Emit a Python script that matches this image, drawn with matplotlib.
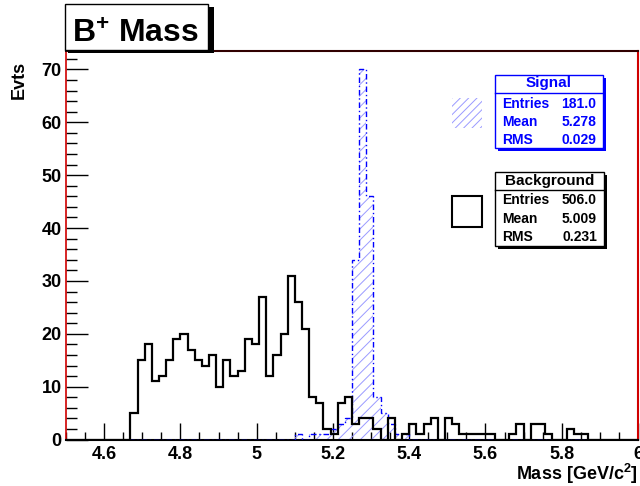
import numpy as np
import matplotlib
matplotlib.use("Agg")
import matplotlib.pyplot as plt
from matplotlib.patches import Rectangle
from matplotlib.lines import Line2D
from matplotlib.ticker import MultipleLocator

plt.rcParams["font.family"] = ["Liberation Sans", "DejaVu Sans"]
plt.rcParams["font.weight"] = "bold"
plt.rcParams["mathtext.fontset"] = "custom"
plt.rcParams["mathtext.rm"] = "Liberation Sans:bold"
plt.rcParams["mathtext.it"] = "Liberation Sans:bold"
plt.rcParams["mathtext.bf"] = "Liberation Sans:bold"
plt.rcParams["hatch.linewidth"] = 0.7

# Histogram binning
mass_lo, mass_hi, n_bins = 4.5, 6.0, 80
edges = np.linspace(mass_lo, mass_hi, n_bins + 1)

# Background counts per bin
bkg_counts = [
    0, 0, 0, 0, 0, 0, 0, 0, 0, 5,
    15, 18, 11, 12, 15, 19, 20, 17, 15, 14,
    16, 10, 15, 12, 13, 19, 18, 27, 12, 16,
    20, 31, 26, 21, 8, 7, 2, 1, 7, 8,
    3, 4, 4, 2, 0, 4, 0, 1, 3, 1,
    3, 4, 0, 4, 3, 1, 1, 1, 1, 1,
    0, 0, 1, 3, 0, 3, 3, 1, 0, 0,
    2, 1, 1, 0, 0, 0, 0, 0, 0, 0,
]

# Signal counts per bin
sig_counts = [
    0, 0, 0, 0, 0, 0, 0, 0, 0, 0,
    0, 0, 0, 0, 0, 0, 0, 0, 0, 0,
    0, 0, 0, 0, 0, 0, 0, 0, 0, 0,
    0, 0, 1, 0, 1, 1, 1, 2, 3, 4,
    34, 70, 46, 8, 5, 3, 1, 1, 0, 0,
    0, 0, 0, 0, 0, 0, 0, 0, 0, 0,
    0, 0, 0, 0, 0, 0, 0, 0, 0, 0,
    0, 0, 0, 0, 0, 0, 0, 0, 0, 0,
]

x_ticks = [4.6, 4.8, 5.0, 5.2, 5.4, 5.6, 5.8, 6.0]
x_ticklabels = ["4.6", "4.8", "5", "5.2", "5.4", "5.6", "5.8", "6"]
y_ticks = [0, 10, 20, 30, 40, 50, 60, 70]

sig_stats = [("Entries", "181.0"), ("Mean", "5.278"), ("RMS", "0.029")]
bkg_stats = [("Entries", "506.0"), ("Mean", "5.009"), ("RMS", "0.231")]

SIG_BLUE = "#0000ff"
HATCH_BLUE = "#9a9aff"
FRAME_RED = "#d00000"

W, H = 640, 486
fig = plt.figure(figsize=(W / 100, H / 100), dpi=100)
fig.patch.set_facecolor("white")


def fx(p):
    return p / W


def fy(p):
    return 1 - p / H


ax = fig.add_axes([fx(66), fy(439.5), fx(638) - fx(66), fy(51) - fy(439.5)])

sig = np.asarray(sig_counts, float)
bkg = np.asarray(bkg_counts, float)

# Signal: hatched fill with dash-dot blue outline
ax.stairs(sig, edges, fill=True, facecolor="none", edgecolor=HATCH_BLUE,
          hatch="///", linewidth=0, zorder=2)
ax.stairs(sig, edges, color=SIG_BLUE, linewidth=1.0,
          linestyle=(0, (4, 2, 1, 2)), zorder=3)
# Background: solid black outline
ax.stairs(bkg, edges, color="black", linewidth=1.6, zorder=4)

ax.set_xlim(mass_lo, mass_hi)
ax.set_ylim(0, 73.5)
ax.set_xticks(x_ticks)
ax.set_xticklabels(x_ticklabels)
ax.set_yticks(y_ticks)
ax.xaxis.set_minor_locator(MultipleLocator(0.05))
ax.yaxis.set_minor_locator(MultipleLocator(2))
ax.tick_params(axis="both", which="both", direction="in", top=False, right=False,
               labelsize=13, width=1, color="black")
ax.tick_params(axis="x", which="major", length=12, pad=5)
ax.tick_params(axis="x", which="minor", length=6)
ax.tick_params(axis="y", which="major", length=16, pad=3)
ax.tick_params(axis="y", which="minor", length=8)
for lab in ax.get_xticklabels() + ax.get_yticklabels():
    lab.set_fontweight("bold")

ax.spines["left"].set_color(FRAME_RED)
ax.spines["left"].set_linewidth(1.2)
ax.spines["right"].set_color(FRAME_RED)
ax.spines["right"].set_linewidth(1.5)
ax.spines["bottom"].set_color("black")
ax.spines["bottom"].set_linewidth(1.5)
ax.spines["top"].set_color("#300000")
ax.spines["top"].set_linewidth(1.5)

# Axis titles
fig.text(fx(19), fy(80), "Evts", rotation=90, ha="center", va="center",
         fontsize=13, fontweight="bold")
fig.text(fx(638), fy(474), r"Mass [GeV/c$^{2}$]", ha="right", va="center",
         fontsize=13, fontweight="bold")

# Title box with shadow
fig.add_artist(Rectangle((fx(68), fy(53)), fx(146), 46 / H, transform=fig.transFigure,
                         facecolor="black", edgecolor="none", zorder=10))
fig.add_artist(Rectangle((fx(65), fy(50)), fx(143), 46 / H, transform=fig.transFigure,
                         facecolor="white", edgecolor="black", linewidth=1, zorder=11))
fig.text(fx(72), fy(43), r"B$^{+}$ Mass", ha="left", va="baseline",
         fontsize=23, fontweight="bold", zorder=12)


def stat_box(left, right, top, bottom, sep, color, title, rows, title_y, row_ys):
    wpx, hpx = right - left, bottom - top
    fig.add_artist(Rectangle((fx(left + 3), fy(bottom + 3)), wpx / W, hpx / H,
                             transform=fig.transFigure, facecolor=color,
                             edgecolor="none", zorder=10))
    fig.add_artist(Rectangle((fx(left), fy(bottom)), wpx / W, hpx / H,
                             transform=fig.transFigure, facecolor="white",
                             edgecolor=color, linewidth=1, zorder=11))
    fig.add_artist(Line2D([fx(left), fx(right)], [fy(sep), fy(sep)],
                          transform=fig.transFigure, color=color, linewidth=1,
                          zorder=12))
    fig.text(fx((left + right) / 2), fy(title_y), title, ha="center", va="center",
             fontsize=11, fontweight="bold", color=color, zorder=13)
    for (name, val), ry in zip(rows, row_ys):
        fig.text(fx(left + 7), fy(ry), name, ha="left", va="center",
                 fontsize=10, fontweight="bold", color=color, zorder=13)
        fig.text(fx(right - 7), fy(ry), val, ha="right", va="center",
                 fontsize=10, fontweight="bold", color=color, zorder=13)


stat_box(495, 603, 75, 148, 93, SIG_BLUE, "Signal", sig_stats, 83, [104, 122, 140])
stat_box(495, 604, 172, 246, 190, "black", "Background", bkg_stats, 181, [200, 219, 237])

# Legend swatches
fig.add_artist(Rectangle((fx(452), fy(128)), 30 / W, 30 / H, transform=fig.transFigure,
                         facecolor="none", edgecolor=HATCH_BLUE, hatch="////",
                         linewidth=0, zorder=11))
fig.add_artist(Rectangle((fx(452), fy(227)), 30 / W, 31 / H, transform=fig.transFigure,
                         facecolor="white", edgecolor="black", linewidth=1.5,
                         zorder=11))

fig.savefig("out.png", dpi=100)
